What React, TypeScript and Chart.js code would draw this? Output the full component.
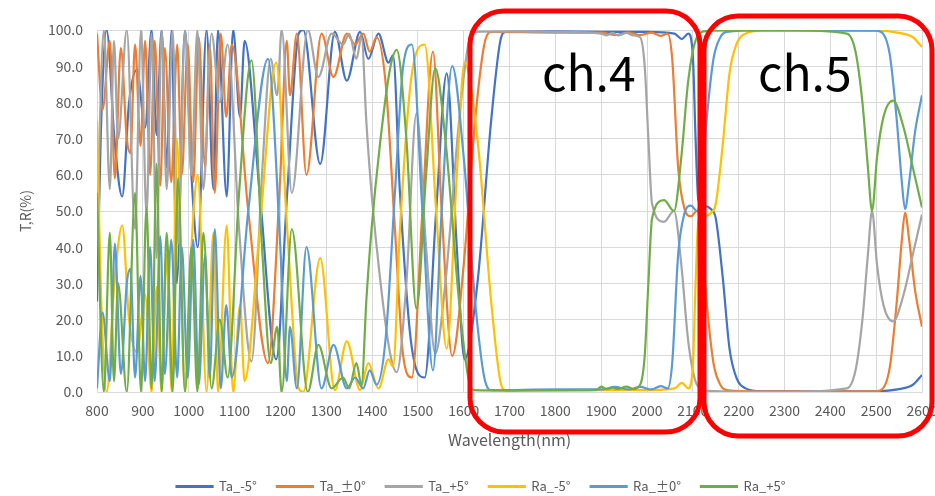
import React, { useEffect, useRef } from "react";
import { Chart, registerables } from "chart.js";

Chart.register(...registerables);

const seriesNames = ["Ta_-5°", "Ta_±0°", "Ta_+5°", "Ra_-5°", "Ra_±0°", "Ra_+5°"];
const seriesColors = ["#4472C4", "#ED7D31", "#A5A5A5", "#FFC000", "#5B9BD5", "#70AD47"];

const xTicks = [800, 900, 1000, 1100, 1200, 1300, 1400, 1500, 1600, 1700, 1800, 1900, 2000, 2100, 2200, 2300, 2400, 2500, 2600];
const yTicks = [0, 10, 20, 30, 40, 50, 60, 70, 80, 90, 100];

// [wavelength nm, %]
const taMinus5: [number, number][] = [
  [800, 25], [808, 70], [821, 100], [838, 70], [855, 54], [870, 80], [887, 89], [905, 73], [919, 100], [930, 71],
  [941, 100], [952, 62], [963, 100], [974, 30], [992, 100], [1006, 60], [1020, 40], [1039, 100], [1054, 56], [1064, 100],
  [1083, 54], [1097, 100], [1112, 76], [1122, 97], [1155, 55], [1191, 9], [1215, 55], [1240, 99], [1250, 100], [1287, 63],
  [1319, 99.5], [1345, 86], [1374, 99.5], [1392, 92], [1414, 99], [1436, 91], [1446, 93], [1461, 55], [1485, 14], [1515, 4],
  [1540, 50], [1563, 88], [1585, 40], [1602, 9], [1630, 30], [1660, 75], [1680, 97], [1692, 99.5], [1800, 99.6], [1900, 99.5],
  [2000, 99.5], [2060, 99], [2076, 97.5], [2090, 99], [2100, 93], [2106, 70], [2112, 53], [2125, 51.5], [2140, 50.5], [2150, 48],
  [2165, 32], [2180, 12], [2195, 4], [2215, 1], [2250, 0.2], [2500, 0.2], [2550, 0.8], [2580, 2], [2600, 4.7],
];

const taZero: [number, number][] = [
  [800, 99], [812, 78], [828, 97], [839, 59], [852, 95], [865, 70], [873, 66], [883, 96], [895, 68], [905, 97],
  [916, 60], [926, 97], [938, 57], [948, 95], [962, 58], [975, 96], [985, 60], [998, 96], [1010, 58], [1022, 98],
  [1036, 62], [1046, 96], [1057, 55], [1070, 99], [1082, 76], [1094, 96], [1130, 50], [1173, 8], [1200, 60], [1214, 97],
  [1221, 82], [1236, 99], [1257, 60], [1290, 99], [1316, 87], [1345, 99], [1363, 96], [1381, 99], [1395, 94], [1410, 98],
  [1430, 85], [1450, 45], [1468, 10], [1487, 4], [1510, 50], [1533, 94], [1552, 50], [1575, 10], [1600, 35], [1625, 75],
  [1645, 96], [1662, 99.5], [1800, 99.3], [1900, 99.3], [1930, 98.6], [1960, 99.3], [1985, 98.6], [2010, 99.3], [2030, 98.4], [2045, 99],
  [2055, 92], [2068, 62], [2081, 51], [2096, 48.5], [2109, 50], [2117, 46], [2130, 25], [2145, 8], [2160, 2], [2174, 0.5],
  [2250, 0.1], [2500, 0.2], [2515, 1], [2530, 7], [2545, 25], [2556, 42], [2563, 49.5], [2572, 42], [2585, 28], [2600, 18],
];

const taPlus5: [number, number][] = [
  [800, 45], [815, 100], [828, 56], [837, 97], [846, 70], [865, 100], [883, 45], [896, 100], [908, 49], [919, 99],
  [930, 37], [941, 100], [952, 56], [965, 100], [977, 41], [992, 100], [1006, 60], [1019, 100], [1032, 56], [1050, 99],
  [1068, 80], [1085, 96], [1110, 45], [1137, 8.4], [1160, 60], [1179, 92], [1193, 82], [1203, 100], [1225, 55], [1260, 100],
  [1283, 87], [1312, 99], [1337, 96], [1350, 99], [1366, 92], [1377, 98], [1388, 74], [1399, 55], [1417, 32], [1439, 11],
  [1454, 5.5], [1475, 30], [1497, 77], [1518, 40], [1538, 10.6], [1560, 30], [1590, 75], [1610, 96], [1622, 99.5], [1700, 99.6],
  [1800, 99.5], [1900, 99], [1912, 98.5], [1925, 99.2], [1937, 98.5], [1955, 99.2], [1970, 98.5], [1985, 98], [1995, 90], [2003, 70],
  [2011, 52], [2037, 47], [2059, 50], [2075, 35], [2090, 14], [2109, 2], [2130, 0.3], [2300, 0], [2436, 1], [2455, 6],
  [2470, 20], [2482, 38], [2491, 50], [2502, 35], [2516, 24], [2537, 19.5], [2560, 27], [2580, 38], [2600, 49],
];

const raMinus5: [number, number][] = [
  [800, 75], [808, 30], [821, 0], [838, 30], [855, 46], [870, 20], [887, 11], [905, 27], [919, 0], [930, 29],
  [941, 0], [952, 38], [963, 0], [974, 70], [992, 0], [1006, 40], [1020, 60], [1039, 0], [1054, 44], [1064, 0],
  [1083, 46], [1097, 0], [1112, 24], [1122, 3], [1155, 45], [1191, 91], [1215, 45], [1240, 1], [1250, 0], [1287, 37],
  [1319, 0.5], [1345, 14], [1374, 0.5], [1392, 8], [1414, 1], [1436, 9], [1446, 7], [1461, 45], [1485, 86], [1515, 96],
  [1540, 50], [1563, 12], [1585, 60], [1602, 91], [1630, 70], [1660, 25], [1680, 3], [1692, 0.5], [1800, 0.4], [1900, 0.5],
  [2000, 0.5], [2060, 1], [2076, 2.5], [2090, 1], [2100, 7], [2106, 30], [2112, 47], [2125, 48.5], [2140, 49.5], [2150, 52],
  [2165, 68], [2180, 88], [2195, 96], [2215, 99], [2250, 99.8], [2500, 99.8], [2550, 99.2], [2580, 98], [2600, 95.3],
];

const raZero: [number, number][] = [
  [800, 1], [812, 22], [828, 3], [839, 41], [852, 5], [865, 30], [873, 34], [883, 4], [895, 32], [905, 3],
  [916, 40], [926, 3], [938, 43], [948, 5], [962, 42], [975, 4], [985, 40], [998, 4], [1010, 42], [1022, 2],
  [1036, 38], [1046, 4], [1057, 45], [1070, 1], [1082, 24], [1094, 4], [1130, 50], [1173, 92], [1200, 40], [1214, 3],
  [1221, 18], [1236, 1], [1257, 40], [1290, 1], [1316, 13], [1345, 1], [1363, 4], [1381, 1], [1395, 6], [1410, 2],
  [1430, 15], [1450, 55], [1468, 90], [1487, 96], [1510, 50], [1533, 6], [1552, 50], [1575, 90], [1600, 65], [1625, 25],
  [1645, 4], [1662, 0.5], [1800, 0.7], [1900, 0.7], [1930, 1.4], [1960, 0.7], [1985, 1.4], [2010, 0.7], [2030, 1.6], [2045, 1],
  [2055, 8], [2068, 38], [2081, 49], [2096, 51.5], [2109, 50], [2117, 54], [2130, 75], [2145, 92], [2160, 98], [2174, 99.5],
  [2250, 99.9], [2500, 99.8], [2515, 99], [2530, 93], [2545, 75], [2556, 58], [2563, 50.5], [2572, 58], [2585, 72], [2600, 82],
];

const raPlus5: [number, number][] = [
  [800, 55], [815, 0], [828, 44], [837, 3], [846, 30], [865, 0], [883, 55], [896, 0], [908, 51], [919, 1],
  [930, 63], [941, 0], [952, 44], [965, 0], [977, 59], [992, 0], [1006, 40], [1019, 0], [1032, 44], [1050, 1],
  [1068, 20], [1085, 4], [1110, 55], [1137, 91.6], [1160, 40], [1179, 8], [1193, 18], [1203, 0], [1225, 45], [1260, 0],
  [1283, 13], [1312, 1], [1337, 4], [1350, 1], [1366, 8], [1377, 2], [1388, 26], [1399, 45], [1417, 68], [1439, 89],
  [1454, 94.5], [1475, 70], [1497, 23], [1518, 60], [1538, 89.4], [1560, 70], [1590, 25], [1610, 4], [1622, 0.5], [1700, 0.4],
  [1800, 0.5], [1890, 0.6], [1900, 1.5], [1912, 0.8], [1925, 1.2], [1937, 0.8], [1955, 1.5], [1970, 0.8], [1985, 2], [1995, 10],
  [2003, 30], [2011, 48], [2037, 53], [2059, 50], [2075, 65], [2090, 86], [2109, 98], [2130, 99.7], [2300, 100], [2436, 99],
  [2455, 94], [2470, 80], [2482, 62], [2491, 50], [2502, 65], [2516, 76], [2537, 80.5], [2560, 73], [2580, 62], [2600, 51],
];

const seriesData = [taMinus5, taZero, taPlus5, raMinus5, raZero, raPlus5];

const FONT = "'Noto Sans CJK JP', 'Noto Sans', sans-serif";
const TEXT_GRAY = "#595959";
const GRID = "#D9D9D9";

function roundRectPath(ctx: CanvasRenderingContext2D, x: number, y: number, w: number, h: number, r: number) {
  ctx.beginPath();
  ctx.moveTo(x + r, y);
  ctx.lineTo(x + w - r, y);
  ctx.arcTo(x + w, y, x + w, y + r, r);
  ctx.lineTo(x + w, y + h - r);
  ctx.arcTo(x + w, y + h, x + w - r, y + h, r);
  ctx.lineTo(x + r, y + h);
  ctx.arcTo(x, y + h, x, y + h - r, r);
  ctx.lineTo(x, y + r);
  ctx.arcTo(x, y, x + r, y, r);
  ctx.closePath();
}

const channelPlugin = {
  id: "channelBoxes",
  afterDraw(chart: any) {
    const ctx: CanvasRenderingContext2D = chart.ctx;
    ctx.save();
    ctx.strokeStyle = "#FF0000";
    ctx.lineWidth = 5;
    roundRectPath(ctx, 470, 11, 230, 421, 34);
    ctx.stroke();
    roundRectPath(ctx, 704, 16, 228, 420, 34);
    ctx.stroke();
    ctx.fillStyle = "#000000";
    ctx.font = `48px ${FONT}`;
    ctx.textBaseline = "alphabetic";
    ctx.textAlign = "left";
    ctx.fillText("ch.4", 542, 91);
    ctx.fillText("ch.5", 758, 91);
    ctx.restore();
  },
};

export default function App() {
  const ref = useRef<HTMLCanvasElement | null>(null);

  useEffect(() => {
    if (!ref.current) return;
    const datasets = seriesNames.map((name, i) => ({
      label: name,
      data: seriesData[i].map(([x, y]) => ({ x, y })),
      borderColor: seriesColors[i],
      backgroundColor: seriesColors[i],
      borderWidth: 2.2,
      pointRadius: 0,
      pointHoverRadius: 0,
      cubicInterpolationMode: "monotone" as const,
      fill: false,
      order: seriesNames.length - i,
    }));

    const chart = new Chart(ref.current, {
      type: "line",
      data: { datasets },
      plugins: [channelPlugin],
      options: {
        responsive: false,
        animation: false,
        devicePixelRatio: 1,
        layout: { padding: { top: 30, right: 13, bottom: -7, left: 40 } },
        plugins: {
          tooltip: { enabled: false },
          legend: {
            position: "bottom",
            labels: {
              boxWidth: 36,
              boxHeight: 1,
              padding: 20,
              color: TEXT_GRAY,
              font: { family: FONT, size: 13 },
              sort: (a: any, b: any) => a.datasetIndex - b.datasetIndex,
            },
          },
        },
        scales: {
          x: {
            type: "linear",
            min: xTicks[0],
            max: xTicks[xTicks.length - 1],
            afterBuildTicks: (scale: any) => {
              scale.ticks = xTicks.map((v) => ({ value: v }));
            },
            afterFit: (scale: any) => {
              scale.height = 68;
              scale.paddingRight = 0;
              scale.paddingLeft = 0;
            },
            ticks: {
              color: TEXT_GRAY,
              font: { family: FONT, size: 14 },
              padding: 10,
              maxRotation: 0,
              autoSkip: false,
              callback: (v: any) => String(v),
            },
            grid: { color: GRID, drawTicks: false, lineWidth: 1 },
            border: { color: GRID },
            title: {
              display: true,
              text: "Wavelength(nm)",
              color: TEXT_GRAY,
              font: { family: FONT, size: 16 },
              padding: { top: 0, bottom: 10 },
            },
          },
          y: {
            type: "linear",
            min: 0,
            max: 100,
            afterBuildTicks: (scale: any) => {
              scale.ticks = yTicks.map((v) => ({ value: v }));
            },
            afterFit: (scale: any) => {
              scale.width = 57;
            },
            ticks: {
              color: TEXT_GRAY,
              font: { family: FONT, size: 14 },
              padding: 14,
              callback: (v: any) => Number(v).toFixed(1),
            },
            grid: { color: GRID, drawTicks: false, lineWidth: 1 },
            border: { color: GRID },
            title: {
              display: true,
              text: "T,R(%)",
              color: TEXT_GRAY,
              font: { family: FONT, size: 14 },
              padding: { top: -23, bottom: 0 },
            },
          },
        },
      },
    });
    return () => chart.destroy();
  }, []);

  return (
    <div style={{ position: "absolute", left: 0, top: 0, width: 935, height: 496, background: "#ffffff" }}>
      <canvas ref={ref} width={935} height={496} style={{ display: "block", width: 935, height: 496 }} />
    </div>
  );
}
